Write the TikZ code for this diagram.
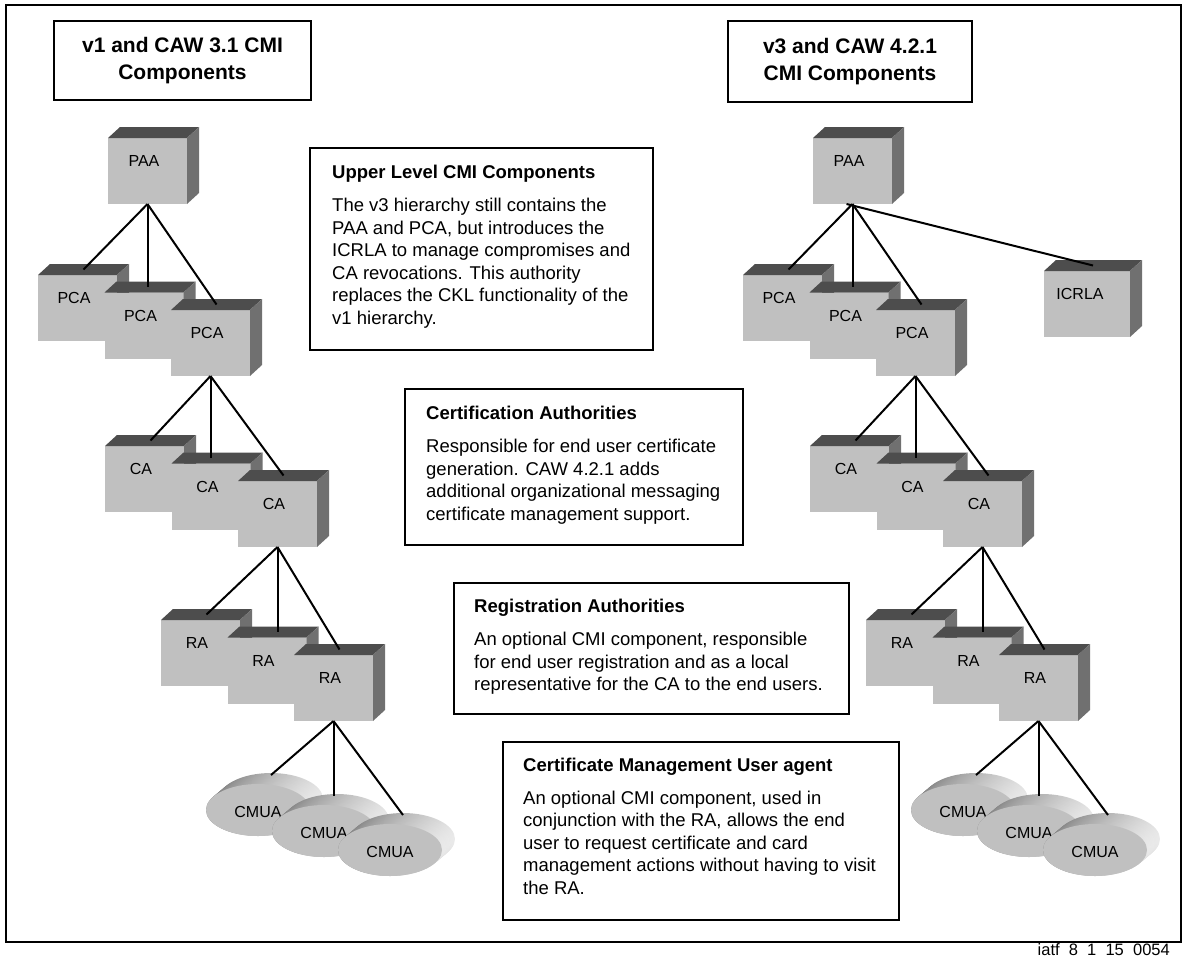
\documentclass[tikz,border=0pt]{standalone}
\usepackage{fontspec}
\setmainfont{Liberation Sans}
\usetikzlibrary{calc,shapes.geometric}
\definecolor{cubefrontc}{RGB}{192,192,192}
\definecolor{cubetopc}{RGB}{77,77,77}
\definecolor{cubesidec}{RGB}{112,112,112}
\tikzset{
  cubefront/.style={fill=cubefrontc, inner sep=0pt, outer sep=0pt, minimum height=66pt, anchor=north west},
  cubetop/.style={fill=cubetopc},
  cubeside/.style={fill=cubesidec},
  cubelabel/.style={font=\fontsize{16}{19}\selectfont, inner sep=0pt},
  conn/.style={draw=black, line width=2pt},
  infobox/.style={draw=black, line width=2pt, inner sep=0pt, anchor=north west},
  boxtext/.style={font=\fontsize{18.5}{22.5}\selectfont, align=left, inner sep=0pt, anchor=north west},
  titlebox/.style={draw=black, line width=2pt, font=\bfseries\fontsize{21}{27}\selectfont, align=center, inner sep=0pt, anchor=north west},
  discfront/.style={ellipse, fill=cubefrontc, minimum width=104pt, minimum height=52pt, inner sep=0pt, outer sep=0pt},
}
\newcommand\cmicube[5]{% name, x, y, width, label
  \node[cubefront, minimum width=#4pt] (#1) at (#2,#3) {};
  \fill[cubetop] (#1.north west) -- ++(12,-11) -- ++(#4,0) -- (#1.north east) -- cycle;
  \fill[cubeside] (#1.north east) -- ++(12,-11) -- ++(0,66) -- (#1.south east) -- cycle;
  \node[cubelabel] (#1-l) at ([xshift=36pt,yshift=-23pt]#1.north west) {#5};
  \coordinate (#1-t) at ([xshift=6pt,yshift=5.5pt]#1.north);
}
\newcommand\cmuadisc[4]{% name, cx, cy, label
  \foreach \k in {0,...,10} {
    \shade[left color=black!50, right color=black!8, shift={(#2,#3)}]
      ({13-13*\k/10},{-11+11*\k/10}) ellipse [x radius=52pt, y radius=26pt];
  }
  \node[discfront] (#1) at (#2,#3) {};
  \node[cubelabel] (#1-l) at ([yshift=-2pt]#1.center) {#4};
  \coordinate (#1-t) at ([xshift=13pt,yshift=9pt]#1.north);
}
\begin{document}
\begin{tikzpicture}[x=1pt,y=-1pt]
\useasboundingbox (0,0) rectangle (1183,959);
\draw[line width=2pt] (6,5) rectangle (1181,942);

% title boxes
\node[titlebox, minimum width=257pt, minimum height=79pt] (titleL) at (53,20) {v1 and CAW 3.1 CMI\\Components};
\node[titlebox, minimum width=244pt, minimum height=81pt] (titleR) at (727,20) {v3 and CAW 4.2.1\\CMI Components};

% ---------- left tree ----------
\cmicube{paaL}{108}{138}{79}{PAA}
\cmicube{pcaLa}{38}{275}{79}{PCA}
\cmicube{pcaLb}{104.5}{292.5}{79}{PCA}
\cmicube{pcaLc}{171}{310}{79}{PCA}
\cmicube{caLa}{105}{446}{79}{CA}
\cmicube{caLb}{171.5}{463.5}{79}{CA}
\cmicube{caLc}{238}{481}{79}{CA}
\cmicube{raLa}{161}{620}{79}{RA}
\cmicube{raLb}{227.5}{637.5}{79}{RA}
\cmicube{raLc}{294}{655}{79}{RA}
\cmuadisc{cmuaLa}{258}{810}{CMUA}
\cmuadisc{cmuaLb}{324}{831}{CMUA}
\cmuadisc{cmuaLc}{390}{850}{CMUA}

% ---------- right tree ----------
\cmicube{paaR}{813}{138}{79}{PAA}
\cmicube{pcaRa}{743}{275}{79}{PCA}
\cmicube{pcaRb}{809.5}{292.5}{79}{PCA}
\cmicube{pcaRc}{876}{310}{79}{PCA}
\cmicube{icrla}{1044}{271}{86}{ICRLA}
\cmicube{caRa}{810}{446}{79}{CA}
\cmicube{caRb}{876.5}{463.5}{79}{CA}
\cmicube{caRc}{943}{481}{79}{CA}
\cmicube{raRa}{866}{620}{79}{RA}
\cmicube{raRb}{932.5}{637.5}{79}{RA}
\cmicube{raRc}{999}{655}{79}{RA}
\cmuadisc{cmuaRa}{963}{810}{CMUA}
\cmuadisc{cmuaRb}{1029}{831}{CMUA}
\cmuadisc{cmuaRc}{1095}{850}{CMUA}

% ---------- connectors ----------
\draw[conn] (paaL.south) -- (pcaLa-t);
\draw[conn] (paaL.south) -- (paaL.south |- pcaLb-t);
\draw[conn] (paaL.south) -- (pcaLc-t);
\draw[conn] (pcaLc.south) -- (caLa-t);
\draw[conn] (pcaLc.south) -- (pcaLc.south |- caLb-t);
\draw[conn] (pcaLc.south) -- (caLc-t);
\draw[conn] (caLc.south) -- (raLa-t);
\draw[conn] (caLc.south) -- (caLc.south |- raLb-t);
\draw[conn] (caLc.south) -- (raLc-t);
\draw[conn] (raLc.south) -- (cmuaLa-t);
\draw[conn] (raLc.south) -- (raLc.south |- cmuaLb-t);
\draw[conn] (raLc.south) -- (cmuaLc-t);

\draw[conn] (paaR.south) -- (pcaRa-t);
\draw[conn] (paaR.south) -- (paaR.south |- pcaRb-t);
\draw[conn] (paaR.south) -- (pcaRc-t);
\draw[conn] ([xshift=-6pt]paaR.south) -- (icrla-t);
\draw[conn] (pcaRc.south) -- (caRa-t);
\draw[conn] (pcaRc.south) -- (pcaRc.south |- caRb-t);
\draw[conn] (pcaRc.south) -- (caRc-t);
\draw[conn] (caRc.south) -- (raRa-t);
\draw[conn] (caRc.south) -- (caRc.south |- raRb-t);
\draw[conn] (caRc.south) -- (raRc-t);
\draw[conn] (raRc.south) -- (cmuaRa-t);
\draw[conn] (raRc.south) -- (raRc.south |- cmuaRb-t);
\draw[conn] (raRc.south) -- (cmuaRc-t);

% ---------- text boxes ----------
\node[infobox, minimum width=343pt, minimum height=202pt] (boxA) at (309,147) {};
\node[boxtext] (boxAt) at ([xshift=23pt,yshift=-18pt]boxA.north west)
  {\textbf{Upper Level CMI Components}\\[10.5pt]
   The v3 hierarchy still contains the\\
   PAA and PCA, but introduces the\\
   ICRLA to manage compromises and\\
   CA revocations. This authority\\
   replaces the CKL functionality of the\\
   v1 hierarchy.};

\node[infobox, minimum width=338pt, minimum height=156pt] (boxB) at (404,388) {};
\node[boxtext] (boxBt) at ([xshift=22pt,yshift=-18pt]boxB.north west)
  {\textbf{Certification Authorities}\\[10.5pt]
   Responsible for end user certificate\\
   generation. CAW 4.2.1 adds\\
   additional organizational messaging\\
   certificate management support.};

\node[infobox, minimum width=395pt, minimum height=131pt] (boxC) at (453,582) {};
\node[boxtext] (boxCt) at ([xshift=21pt,yshift=-17pt]boxC.north west)
  {\textbf{Registration Authorities}\\[10.5pt]
   An optional CMI component, responsible\\
   for end user registration and as a local\\
   representative for the CA to the end users.};

\node[infobox, minimum width=396pt, minimum height=178pt] (boxD) at (502,741) {};
\node[boxtext] (boxDt) at ([xshift=21pt,yshift=-16.5pt]boxD.north west)
  {\textbf{Certificate Management User agent}\\[10.5pt]
   An optional CMI component, used in\\
   conjunction with the RA, allows the end\\
   user to request certificate and card\\
   management actions without having to visit\\
   the RA.};

% footer
\node[font=\fontsize{16.5}{20}\selectfont, anchor=base east, inner sep=0pt] (foot) at (1170,955.5)
  {iatf\ \ 8\ \ 1\ \ 15\ \ 0054};
\end{tikzpicture}
\end{document}
